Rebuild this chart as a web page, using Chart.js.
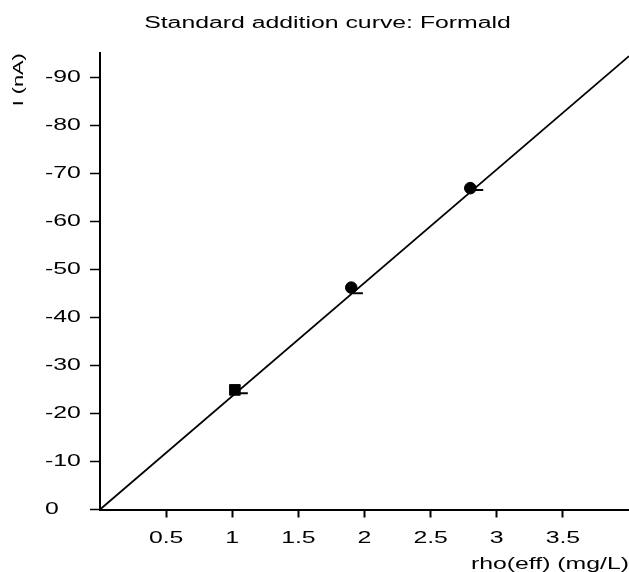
<!DOCTYPE html>
<html>
<head>
<meta charset="utf-8">
<script src="https://cdn.jsdelivr.net/npm/chart.js@4/dist/chart.umd.min.js"></script>
<style>
  html, body { margin: 0; padding: 0; background: #ffffff; }
  #wrap { width: 629px; height: 572px; }
</style>
</head>
<body>
<div id="wrap"><canvas id="c" width="629" height="572"></canvas></div>
<script>
// ---- data ----
const rhoEff      = [1.02, 1.9, 2.8];          // mg/L, measured points
const currentNA   = [-24.9, -46.2, -66.9];     // nA
const markerStyle = ['rect', 'circle', 'circle'];
const fitRho      = [1.08, 1.95, 2.86];        // small dashes on the line
const fitCurrent  = [-24.2, -45.0, -66.5];
const regRho      = [0, 4];                    // regression line ends
const regCurrent  = [0, -94.4];
const xTicks = [0.5, 1, 1.5, 2, 2.5, 3, 3.5];
const yTicks = [0, -10, -20, -30, -40, -50, -60, -70, -80, -90];
const titleText = 'Standard addition curve: Formald';
const xTitle = 'rho(eff) (mg/L)';
const yTitle = 'I (nA)';

// ---- wide text rendering (reference uses horizontally expanded glyphs) ----
const STRETCH = 1.55;
const canvas = document.getElementById('c');
const ctx = canvas.getContext('2d');
const origFill = ctx.fillText.bind(ctx);
const origMeasure = ctx.measureText.bind(ctx);
ctx.measureText = function (t) {
  const m = origMeasure(t);
  return {
    width: m.width * STRETCH,
    actualBoundingBoxAscent: m.actualBoundingBoxAscent,
    actualBoundingBoxDescent: m.actualBoundingBoxDescent,
    actualBoundingBoxLeft: m.actualBoundingBoxLeft * STRETCH,
    actualBoundingBoxRight: m.actualBoundingBoxRight * STRETCH,
    fontBoundingBoxAscent: m.fontBoundingBoxAscent,
    fontBoundingBoxDescent: m.fontBoundingBoxDescent
  };
};
ctx.fillText = function (t, x, y, mw) {
  ctx.save();
  ctx.translate(x, y);
  ctx.scale(STRETCH, 1);
  if (mw !== undefined && mw !== null) origFill(t, 0, 0, mw / STRETCH);
  else origFill(t, 0, 0);
  ctx.restore();
};

const FONT = "'Liberation Sans', Arial, sans-serif";
Chart.defaults.color = '#000';
Chart.defaults.font.family = FONT;

const shiftYLabels = {
  id: 'shiftYLabels',
  afterLayout(chart) {
    const s = chart.scales.y;
    s.left = 45;
    s._labelItems = null;
  }
};

new Chart(ctx, {
  type: 'scatter',
  data: {
    datasets: [
      {
        label: 'fit',
        xAxisID: 'x', yAxisID: 'y',
        data: regRho.map((x, i) => ({ x, y: regCurrent[i] })),
        showLine: true,
        borderColor: '#000',
        borderWidth: 1.8,
        pointRadius: 0,
        order: 3
      },
      {
        label: 'fitted',
        xAxisID: 'x', yAxisID: 'y',
        data: fitRho.map((x, i) => ({ x, y: fitCurrent[i] })),
        pointStyle: 'line',
        pointRadius: 5,
        borderColor: '#000',
        pointBorderWidth: 2,
        backgroundColor: '#000',
        order: 2
      },
      {
        label: 'measured',
        xAxisID: 'x', yAxisID: 'y',
        data: rhoEff.map((x, i) => ({ x, y: currentNA[i] })),
        pointStyle: markerStyle,
        pointRadius: [7.5, 5.8, 5.8],
        backgroundColor: '#000',
        borderColor: '#000',
        pointBorderWidth: 1,
        order: 1
      }
    ]
  },
  options: {
    responsive: false,
    animation: false,
    events: [],
    layout: { autoPadding: false, padding: { left: 26, right: 0, top: 0, bottom: 0 } },
    plugins: {
      legend: { display: false },
      tooltip: { enabled: false },
      title: {
        display: true,
        text: titleText,
        color: '#000',
        font: { family: FONT, size: 16, weight: 'normal' },
        padding: { top: 14, bottom: 20 }
      }
    },
    scales: {
      x: {
        type: 'linear',
        position: 'bottom',
        min: 0,
        max: 4,
        afterBuildTicks: (s) => { s.ticks = xTicks.map(v => ({ value: v })); },
        afterFit: (s) => { s.height = 62.5; s.paddingLeft = 0; s.paddingRight = 0; },
        grid: { drawOnChartArea: false, drawTicks: true, tickLength: 8, tickColor: '#000', tickWidth: 2 },
        border: { display: true, color: '#000', width: 2 },
        ticks: { color: '#000', font: { family: FONT, size: 16 }, padding: 11, maxRotation: 0, autoSkip: false,
                 callback: (v) => String(v) },
        title: { display: true, text: xTitle, align: 'end', color: '#000',
                 font: { family: FONT, size: 16 }, padding: { top: 0, bottom: -2 } }
      },
      y: {
        type: 'linear',
        position: 'left',
        min: -95,
        max: 0,
        reverse: true,
        afterBuildTicks: (s) => { s.ticks = yTicks.map(v => ({ value: v })); },
        afterFit: (s) => { s.width = 74; s.paddingTop = 0; s.paddingBottom = 0; },
        grid: { drawOnChartArea: false, drawTicks: true, tickLength: 10, tickColor: '#000', tickWidth: 1.5 },
        border: { display: true, color: '#000', width: 2 },
        ticks: { color: '#000', font: { family: FONT, size: 16 }, crossAlign: 'far', autoSkip: false,
                 callback: (v) => String(v) },
        title: { display: false }
      },
      yTitleAxis: {
        type: 'linear',
        position: 'left',
        min: 0,
        max: 1,
        afterFit: (s) => { s.width = 0; s.paddingTop = 0; s.paddingBottom = 0; },
        grid: { display: false, drawTicks: false },
        border: { display: false },
        ticks: { display: false },
        title: { display: true, text: yTitle, align: 'end', color: '#000',
                 font: { family: FONT, size: 14 }, padding: { top: -15, bottom: 0 } }
      }
    }
  },
  plugins: [shiftYLabels]
});
</script>
</body>
</html>
